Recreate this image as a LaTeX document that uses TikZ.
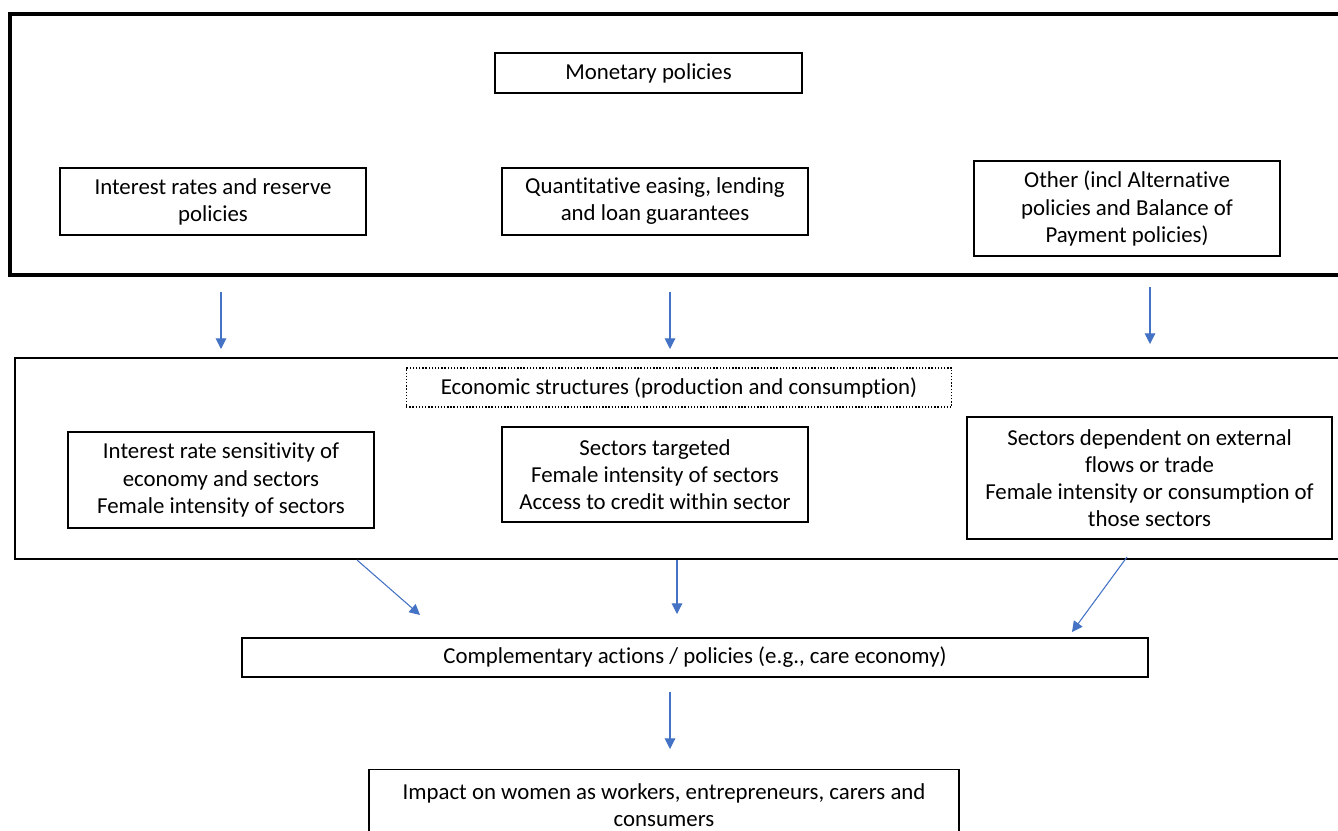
\documentclass[tikz,border=0pt]{standalone}
\usepackage{fontspec}
\setmainfont{Carlito}[Ligatures=NoCommon]
\usetikzlibrary{positioning,arrows.meta}

\definecolor{arrblue}{HTML}{4472C4}
\tikzset{
  box/.style={draw, line width=0.8pt, align=center, inner sep=2pt,
    font=\fontsize{13pt}{15.4pt}\selectfont},
  frame/.style={draw, line width=1.9pt},
  flow/.style={draw=arrblue, fill=arrblue, line width=0.6pt,
    -{Triangle[length=6pt,width=6pt]}}
}

\begin{document}
\begin{tikzpicture}[x=0.02cm,y=-0.02cm]
\useasboundingbox (0,0) rectangle (1338,831);

% frames
\draw[frame] (10,14) rectangle (1360,275);
\draw[line width=1pt] (15,358) rectangle (1360,559);

% policies
\node[box, minimum width=6.14cm, minimum height=0.8cm] (Mon) at (648.5,73) {Monetary policies};
\node[box, minimum width=6.12cm, minimum height=1.34cm] (Rates) at (213,201.5) {Interest rates and reserve\\policies};
\node[box, minimum width=6.12cm, minimum height=1.34cm] (QE) at (655,201.5) {Quantitative easing, lending\\and loan guarantees};
\node[box, minimum width=6.12cm, minimum height=1.9cm] (Other) at (1127,208.5) {Other (incl Alternative\\policies and Balance of\\Payment policies)};

% structures
\node[box, densely dotted, line width=0.6pt, minimum width=10.92cm, minimum height=0.78cm] (Eco) at (679,387.5) {Economic structures (production and consumption)};
\node[box, minimum width=6.12cm, minimum height=1.92cm] (Sens) at (221,480) {Interest rate sensitivity of\\economy and sectors\\Female intensity of sectors};
\node[box, minimum width=6.12cm, minimum height=1.9cm] (Targ) at (655,474.5) {Sectors targeted\\Female intensity of sectors\\Access to credit within sector};
\node[box, minimum width=7.3cm, minimum height=2.44cm] (Dep) at (1149.5,478) {Sectors dependent on external\\flows or trade\\Female intensity or consumption of\\those sectors};

% outcomes
\node[box, minimum width=18.12cm, minimum height=0.78cm] (Comp) at (695,657.5) {Complementary actions / policies (e.g., care economy)};
\node[box, minimum width=11.8cm, minimum height=1.4cm, anchor=north] (Imp) at (664,769) {Impact on women as workers, entrepreneurs, carers and\\consumers};

% arrows
\coordinate (a1) at (221,292); \coordinate (b1) at (221,349);
\coordinate (a2) at (670,292); \coordinate (b2) at (670,349);
\coordinate (a3) at (1150,287); \coordinate (b3) at (1150,344);
\coordinate (c1) at (357,560); \coordinate (d1) at (420,615);
\coordinate (c2) at (677,560); \coordinate (d2) at (677,614);
\coordinate (c3) at (1127,557); \coordinate (d3) at (1072,632);
\coordinate (e1) at (670,692); \coordinate (f1) at (670,749);
\draw[flow] (a1) -- (b1);
\draw[flow] (a2) -- (b2);
\draw[flow] (a3) -- (b3);
\draw[flow] (c1) -- (d1);
\draw[flow] (c2) -- (d2);
\draw[flow] (c3) -- (d3);
\draw[flow] (e1) -- (f1);
\end{tikzpicture}
\end{document}
